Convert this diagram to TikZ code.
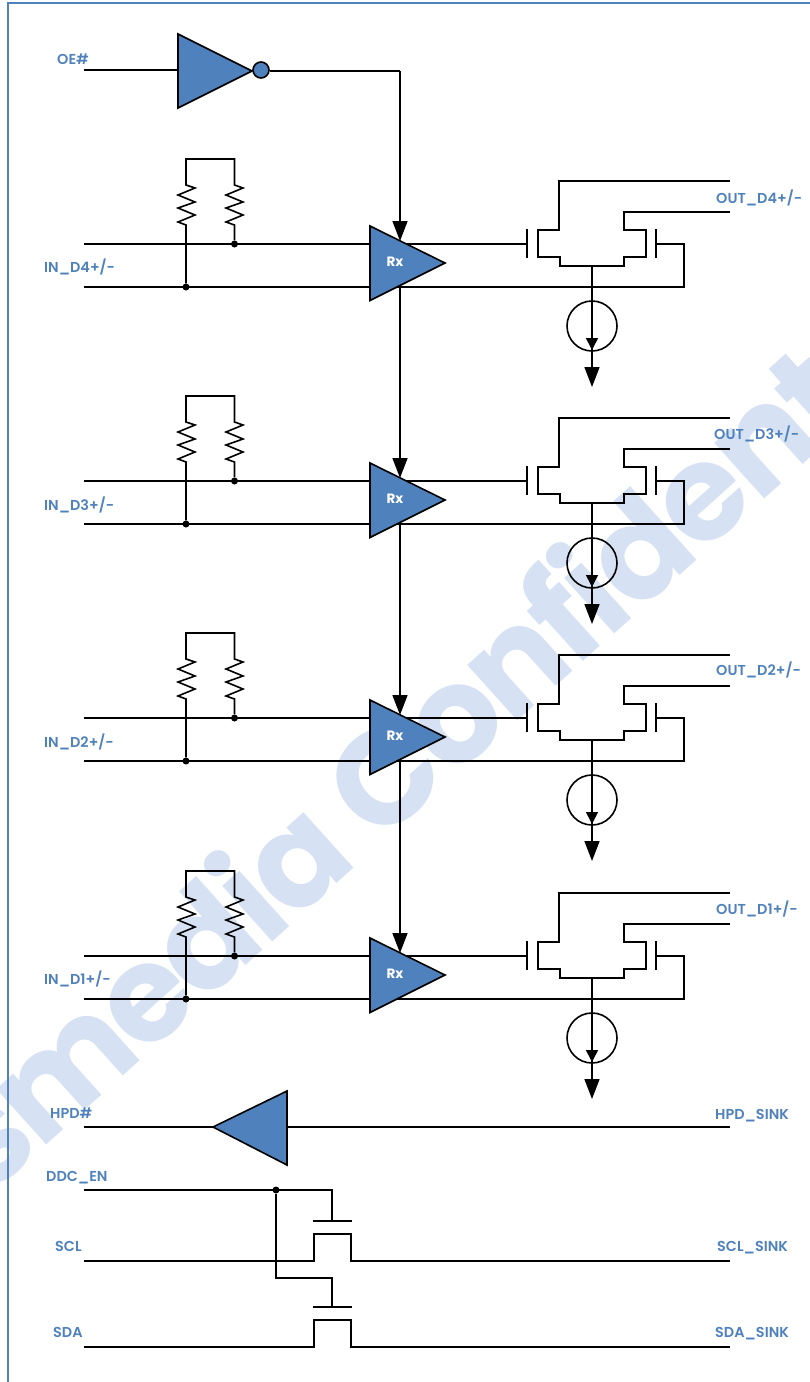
\documentclass[tikz,border=0pt]{standalone}
\usepackage{fontspec}
\setmainfont{Poppins}[UprightFont={* SemiBold},BoldFont={* Bold}]
\newfontfamily\wmfont{Poppins Bold}[LetterSpace=-3]
\usetikzlibrary{arrows.meta}
\definecolor{framec}{HTML}{4F81BD}
\definecolor{fillc}{HTML}{4F81BD}
\definecolor{wmark}{HTML}{D6E2F3}
\tikzset{
  wire/.style={draw=black,line width=1.6pt,line join=miter},
  tri/.style={wire,fill=fillc},
  bigarrow/.style={wire,-{Triangle[length=20pt,width=15pt]}},
  smallarrow/.style={wire,-{Triangle[length=12pt,width=12pt]}},
  junction/.style={circle,fill=black,inner sep=0pt,minimum size=7pt},
  lab/.style={text=framec,font=\fontsize{14.4}{15}\selectfont,inner sep=0pt,anchor=base west},
  rxlab/.style={text=white,font=\fontsize{13.5}{14}\selectfont,inner sep=0pt},
}
\begin{document}
\begin{tikzpicture}[x=1pt,y=-1pt]
\useasboundingbox (0,0) rectangle (810,1382);
\begin{scope}
\clip (0,0) rectangle (810,1382);
\node[text=wmark,font=\wmfont\fontsize{134}{134}\selectfont,rotate=42,anchor=base west,inner sep=0pt] (wm) at (-12,1198) {smedia Confident};
\end{scope}
\draw[draw=framec,line width=2pt] (8,1382) -- (8,3) -- (810,3);

% OE# inverter
\coordinate (oein) at (84,70);
\coordinate (invA) at (178,34);
\coordinate (invB) at (178,108);
\coordinate (invC) at (252,71);
\coordinate (oecorner) at (400,71);
\draw[wire] (oein) -- (178,70);
\draw[tri] (invA) -- (invC) -- (invB) -- cycle;
\node[circle,wire,fill=fillc,minimum size=16pt,inner sep=0pt] (bubble) at (261,70) {};
\draw[wire] (bubble.east |- oecorner) -- (oecorner);
\node[lab] (oelab) at (57,64) {OE\#};

\foreach \n/\d/\ox/\oy/\iy in {4/0/716/203/272,3/237/714/202/273,2/474/716/201/273,1/712/716/202/272}{
\begin{scope}[yshift=-\d pt]
  \coordinate (inp\n) at (84,244);
  \coordinate (inn\n) at (84,287);
  \coordinate (rxA\n) at (370,226);
  \coordinate (rxB\n) at (370,300.5);
  \coordinate (rxC\n) at (445,263);
  \coordinate (rxtop\n) at (400,241);
  \coordinate (rxbot\n) at (400,285);
  % termination resistors
  \node[junction] (jr\n) at (234.5,244) {};
  \node[junction] (jl\n) at (186,287) {};
  \draw[wire] (jl\n) -- (186,225) -- (178,222) -- (195,215) -- (178,208) -- (195,202) -- (178,195) -- (195,188) -- (186,185) -- (186,159)
     -- (234.5,159) -- (234.5,185) -- (243,188) -- (226,195) -- (243,202) -- (226,208) -- (243,215) -- (226,222) -- (234.5,225) -- (jr\n);
  % differential inputs and outputs
  \coordinate (gl\n) at (527,244);
  \coordinate (gr\n) at (656,244);
  \coordinate (tail\n) at (592,266);
  \coordinate (outp\n) at (730,181);
  \coordinate (outn\n) at (730,212);
  \draw[wire] (inp\n) -- (gl\n);
  \draw[wire] (inn\n) -- (684,287) -- (684,244) -- (gr\n);
  \draw[wire] (527,229) -- (527,258);
  \draw[wire] (656,229) -- (656,258);
  \draw[wire] (outp\n) -- (559,181) -- (559,230) -- (538,230) -- (538,257) -- (560,257) -- (560,266)
     -- (tail\n) -- (624,266) -- (624,257) -- (646,257) -- (646,230) -- (624,230) -- (624,212) -- (outn\n);
  % tail current source
  \node[circle,wire,minimum size=50pt,inner sep=0pt] (cs\n) at (592,326) {};
  \coordinate (sink\n) at (592,387);
  \coordinate (csin\n) at (592,350);
  \draw[bigarrow] (tail\n) -- (sink\n);
  \draw[smallarrow] (tail\n) -- (csin\n);
  % receiver
  \draw[tri] (rxA\n) -- (rxC\n) -- (rxB\n) -- cycle;
  \node[rxlab] (rx\n) at (395,262) {\bfseries Rx};
  \node[lab] (il\n) at (44,\iy) {IN\_D\n+/-};
  \node[lab] (ol\n) at (\ox,\oy) {OUT\_D\n+/-};
\end{scope}
}
% enable chain
\draw[bigarrow] (oecorner) -- (rxtop4);
\draw[bigarrow] (rxbot4) -- (rxtop3);
\draw[bigarrow] (rxbot3) -- (rxtop2);
\draw[bigarrow] (rxbot2) -- (rxtop1);

% HPD
\coordinate (hpdin) at (84,1127);
\coordinate (hpdout) at (730,1127);
\coordinate (hpdA) at (287,1091);
\coordinate (hpdB) at (287,1165);
\coordinate (hpdC) at (213,1127);
\draw[wire] (hpdin) -- (hpdout);
\draw[tri] (hpdA) -- (hpdC) -- (hpdB) -- cycle;
\node[lab] (hpdl) at (50,1118) {HPD\#};
\node[lab] (hpdr) at (715,1119) {HPD\_SINK};

% DDC
\coordinate (ddcin) at (84,1190);
\node[junction] (jddc) at (276,1190) {};
\coordinate (g1) at (332,1221);
\coordinate (g2) at (332,1307);
\draw[wire] (ddcin) -- (332,1190) -- (g1);
\draw[wire] (jddc) -- (276,1278) -- (332,1278) -- (g2);
\draw[wire] (313,1221) -- (352,1221);
\draw[wire] (313,1307) -- (352,1307);
\coordinate (sclin) at (84,1261);
\coordinate (sclout) at (730,1261);
\coordinate (sdain) at (84,1347);
\coordinate (sdaout) at (730,1347);
\draw[wire] (sclin) -- (314,1261) -- (314,1234) -- (351,1234) -- (351,1261) -- (sclout);
\draw[wire] (sdain) -- (314,1347) -- (314,1320) -- (351,1320) -- (351,1347) -- (sdaout);
\node[lab] (ddcl) at (46,1181) {DDC\_EN};
\node[lab] (scll) at (55,1251) {SCL};
\node[lab] (sclr) at (717,1251) {SCL\_SINK};
\node[lab] (sdal) at (53,1337) {SDA};
\node[lab] (sdar) at (715,1337) {SDA\_SINK};
\end{tikzpicture}
\end{document}
